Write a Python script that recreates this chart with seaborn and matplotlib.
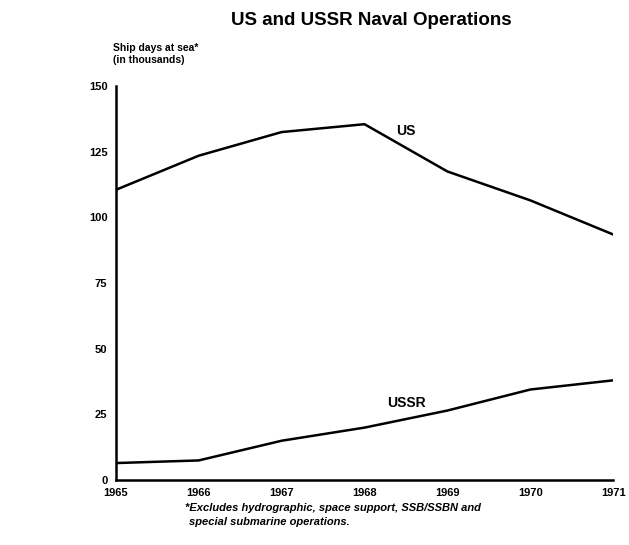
import matplotlib
matplotlib.use("Agg")
import matplotlib.pyplot as plt
import pandas as pd
import seaborn as sns

sns.set_theme(style="white")
plt.rcParams["font.family"] = ["Liberation Sans", "DejaVu Sans"]
plt.rcParams["text.color"] = "black"
plt.rcParams["xtick.color"] = "black"
plt.rcParams["ytick.color"] = "black"

years = [1965, 1966, 1967, 1968, 1969, 1970, 1971]
us_days = [110.5, 123.5, 132.5, 135.5, 117.5, 106.5, 93.5]
ussr_days = [6.5, 7.5, 15, 20, 26.5, 34.5, 38]
y_ticks = [0, 25, 50, 75, 100, 125, 150]

df = pd.DataFrame({
    "year": years * 2,
    "days": us_days + ussr_days,
    "navy": ["US"] * len(years) + ["USSR"] * len(years),
})

fig = plt.figure(figsize=(6.29, 5.45), dpi=100)
ax = fig.add_axes([0.184, 0.119, 0.791, 0.723])

sns.lineplot(data=df, x="year", y="days", units="navy", estimator=None,
             color="black", linewidth=1.8, legend=False, ax=ax)

ax.set_xlim(1965, 1971)
ax.set_ylim(0, 150)
ax.set_xticks(years)
ax.set_yticks(y_ticks)
ax.set_xticklabels([str(y) for y in years], fontsize=8, fontweight="bold")
ax.set_yticklabels([str(v) for v in y_ticks], fontsize=8, fontweight="bold")
ax.tick_params(direction="in", length=6, width=1.5, pad=6)
ax.set_xlabel("")
ax.set_ylabel("")
sns.despine(ax=ax)
for side in ["left", "bottom"]:
    ax.spines[side].set_color("black")
    ax.spines[side].set_linewidth(1.8)

# line labels
ax.text(1968.38, 133, "US", fontsize=10, fontweight="bold", ha="left", va="center")
ax.text(1968.27, 29.5, "USSR", fontsize=10, fontweight="bold", ha="left", va="center")

fig.text(0.59, 0.962, "US and USSR Naval Operations", fontsize=13.5,
         fontweight="bold", ha="center", va="center")
fig.text(0.18, 0.912, "Ship days at sea*", fontsize=7.5, fontweight="bold",
         ha="left", va="center")
fig.text(0.18, 0.889, "(in thousands)", fontsize=7.5, fontweight="bold",
         ha="left", va="center")

fig.text(0.294, 0.068, "*Excludes hydrographic, space support, SSB/SSBN and",
         fontsize=8, fontweight="bold", style="italic", ha="left", va="center")
fig.text(0.3, 0.042, "special submarine operations.",
         fontsize=8, fontweight="bold", style="italic", ha="left", va="center")

fig.savefig("out.png", dpi=100, facecolor="white")
